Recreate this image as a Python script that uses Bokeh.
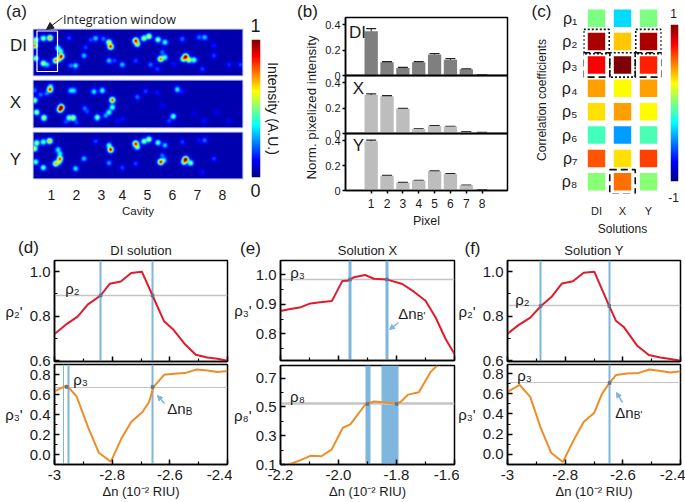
import numpy as np
from math import pi
from bokeh.plotting import figure
from bokeh.layouts import column
from bokeh.models import Range1d, FixedTicker, Label, Arrow, NormalHead, Whisker, ColumnDataSource, LinearColorMapper, TeeHead
from bokeh.embed import file_html
from bokeh.resources import INLINE

FONT = "Liberation Sans"

# ---- panel (a): bright spots (x, y, intensity)
spots_di = [(15,38,.55),(38,33,.5),(58,32,.72),(12,55,.75),(15,93,.5),(38,108,.55),(50,112,.3),(82,62,.4),(90,72,.4),(92,87,.85),(75,100,.7),(85,95,.5),(115,32,.15),(135,115,.35),(120,115,.2),(160,85,.3),(165,60,.15),(180,38,.15),(195,33,.3),(218,34,.2),(235,45,.6),(240,58,.85),(235,100,.3),(252,100,.15),(275,112,.3),(315,40,.85),(320,50,.6),(340,33,.55),(355,27,.6),(382,37,.5),(403,45,.4),(395,75,.2),(390,95,.75),(403,90,.4),(315,100,.15),(455,35,.2),(505,30,.2),(522,30,.3),(465,88,.95),(458,95,.6),(475,98,.55),(490,98,.45),(550,55,.1),(550,85,.15),(515,125,.15),(595,112,.12),(630,112,.15),(360,112,.2),(380,125,.15),(430,110,.1)]
spots_x = [(58,33,.8),(48,45,.2),(30,48,.2),(12,65,.55),(12,35,.2),(18,100,.55),(40,116,.6),(92,85,1.0),(88,92,.8),(120,36,.3),(130,36,.3),(128,116,.55),(115,116,.45),(138,130,.15),(105,128,.15),(190,39,.35),(215,36,.4),(245,64,.8),(245,85,.45),(235,100,.4),(225,110,.25),(200,115,.5),(162,88,.2),(170,98,.15),(345,38,.15),(320,55,.2),(440,33,.35),(428,112,.45),(415,125,.15),(520,125,.1),(275,120,.1),(380,42,.1),(455,40,.1),(395,80,.08),(560,100,.07),(595,125,.07),(490,105,.06),(260,125,.08),(60,24,.3)]
spots_y = [(18,38,.55),(38,35,.45),(57,32,.7),(12,55,.6),(15,95,.45),(38,112,.45),(82,58,.35),(88,70,.35),(88,85,.75),(75,100,.65),(85,95,.45),(135,115,.35),(160,85,.3),(195,33,.15),(235,45,.4),(240,58,.9),(235,98,.25),(275,112,.15),(315,40,.85),(320,50,.5),(340,33,.5),(355,27,.55),(382,37,.45),(403,45,.3),(395,75,.2),(390,95,.85),(400,90,.35),(315,100,.15),(455,35,.15),(505,30,.1),(522,30,.2),(465,87,1.0),(460,95,.6),(480,98,.5),(550,85,.15),(515,125,.1)]
cavity_pos = [63,138,213,276,351,426,501,576]
cavity_lab = ["1","2","3","4","5","6","7","8"]

# ---- panel (b)
pixels = [1,2,3,4,5,6,7,8]
b_di = [.35,.105,.06,.105,.165,.125,.05,.003]
b_di_err = [.02,.004,.004,.005,.008,.008,.003,.001]
b_x = [.305,.295,.195,.035,.06,.055,.012,.008]
b_x_err = [.008,.004,.003,.002,.002,.002,.001,.001]
b_y = [.395,.118,.062,.08,.155,.132,.042,.003]
b_y_err = [.01,.003,.003,.002,.003,.003,.002,.001]

# ---- panel (c)
rho_labels = ["ρ₁","ρ₂","ρ₃","ρ₄","ρ₅","ρ₆","ρ₇","ρ₈"]
sol_labels = ["DI","X","Y"]
corr_di = [0.0,.92,.76,.44,.31,-.12,.59,.02]
corr_x = [-.31,.36,1.0,.26,.44,-.44,.31,.53]
corr_y = [0.0,.92,.69,.44,.26,-.1,.63,.02]

# ---- panels (d, e, f)
d1_x = [-3,-2.962,-2.92,-2.884,-2.84,-2.808,-2.77,-2.734,-2.697,-2.66,-2.62,-2.59,-2.55,-2.51,-2.47,-2.435,-2.4]
d1_y = [.72,.761,.798,.853,.893,.946,.956,.994,1.0,.893,.777,.743,.678,.627,.615,.609,.6]
d2_x = [-3,-2.958,-2.924,-2.884,-2.846,-2.805,-2.768,-2.734,-2.695,-2.672,-2.657,-2.62,-2.585,-2.548,-2.507,-2.47,-2.435,-2.4]
d2_y = [.631,.691,.585,.276,.017,-.073,.159,.326,.425,.525,.674,.797,.807,.814,.85,.84,.824,.834]
e1_x = [-2.2,-2.171,-2.134,-2.097,-2.063,-2.023,-1.987,-1.97,-1.947,-1.909,-1.878,-1.832,-1.78,-1.74,-1.7,-1.666,-1.631,-1.6]
e1_y = [.877,.883,.889,.903,.907,.911,.979,.98,.992,1.0,.987,.984,.969,.943,.912,.857,.783,.731]
e2_x = [-2.171,-2.131,-2.097,-2.059,-2.024,-1.985,-1.959,-1.907,-1.878,-1.84,-1.803,-1.786,-1.76,-1.723,-1.683,-1.66]
e2_y = [.1,.13,.16,.157,.203,.355,.378,.518,.537,.53,.523,.534,.585,.601,.741,.787]
f1_x = [-3,-2.962,-2.921,-2.884,-2.846,-2.811,-2.773,-2.736,-2.699,-2.649,-2.624,-2.597,-2.551,-2.51,-2.47,-2.435,-2.4]
f1_y = [.722,.76,.794,.846,.889,.947,.957,.995,1.0,.851,.78,.752,.669,.626,.615,.608,.6]
f2_x = [-3,-2.958,-2.921,-2.886,-2.848,-2.808,-2.771,-2.736,-2.699,-2.672,-2.646,-2.624,-2.585,-2.545,-2.508,-2.47,-2.435,-2.4]
f2_y = [.618,.688,.569,.271,.013,-.076,.139,.321,.413,.602,.708,.785,.8,.807,.84,.826,.81,.823]

# crossing points marked on the curves
d1_cross = [(-2.84,.893),(-2.66,.893)]
d2_cross = [(-2.958,.675),(-2.66,.675)]
e1_cross = [(-1.96,.984),(-1.833,.984)]
e2_cross = [(-1.9,.52),(-1.80,.52)]
f1_cross = [(-2.885,.846),(-2.647,.846)]
f2_cross = [(-2.646,.708)]

RED = "#e01b2c"
ORANGE = "#f08c25"
BLUE = "#7fb6de"
GRAY = "#c4c4c4"
TXT = "#1a1a1a"


def jet(n=256):
    out = []
    for t in np.linspace(0, 1, n):
        r = np.clip(min(4*t-1.5, -4*t+4.5), 0, 1)
        g = np.clip(min(4*t-0.5, -4*t+3.5), 0, 1)
        b = np.clip(min(4*t+0.5, -4*t+2.5), 0, 1)
        out.append("#%02x%02x%02x" % (int(r*255), int(g*255), int(b*255)))
    return out

JET = jet()
kids = []
L, R, TOP, B = 70, 5, 35, 38


def make(X0, Y0, X1, Y1, xr, yr):
    p = figure(frame_width=X1-X0, frame_height=Y1-Y0, width=None, height=None,
               x_range=Range1d(*xr), y_range=Range1d(*yr),
               toolbar_location=None, output_backend="svg",
               min_border_left=L, min_border_right=R, min_border_top=TOP, min_border_bottom=B,
               border_fill_color=None, background_fill_color=None,
               styles={"position": "absolute", "left": f"{X0-L}px", "top": f"{Y0-TOP}px"})
    p.grid.visible = False
    kids.append(p)
    return p


def style_axes(p, size="15px"):
    for ax in (p.xaxis[0], p.yaxis[0]):
        ax.axis_line_color = "black"
        ax.axis_line_width = 1.5
        ax.major_tick_line_color = "black"
        ax.minor_tick_line_color = "black"
        ax.major_tick_line_width = 1.5
        ax.minor_tick_line_width = 1.2
        ax.major_label_text_font = FONT
        ax.major_label_text_font_size = size
        ax.major_label_text_color = TXT
        ax.axis_label_text_font = FONT
        ax.axis_label_text_font_style = "normal"
        ax.axis_label_text_color = TXT
    p.outline_line_color = "black"
    p.outline_line_width = 1.5

# ---------------- panel (a)
frames_a = [(29, 75), (80, 127), (132, 178)]
gx, gy = np.meshgrid(np.arange(9, 636, 1.0), np.arange(7, 145, 1.0))
for i, (sp, (y0, y1)) in enumerate(zip([spots_di, spots_x, spots_y], frames_a)):
    p = make(33, y0, 242, y1, (9, 636), (145, 7))
    top = np.zeros(gx.shape)
    total = np.zeros(gx.shape)
    for sx, sy, a in sp:
        g = a*np.exp(-((gx-sx)**2+(gy-sy)**2)/(2*6.0**2))
        top = np.maximum(top, g)
        total += g
    field = top + .5*(total-top) + .05
    p.image(image=[np.clip(field, 0, 1)], x=9, y=7, dw=627, dh=138,
            color_mapper=LinearColorMapper(palette=JET, low=0, high=1))
    p.outline_line_color = "#9aa4e8"
    p.outline_line_width = 1.5
    p.yaxis.visible = False
    if i == 2:
        ax = p.xaxis[0]
        ax.ticker = FixedTicker(ticks=cavity_pos)
        ax.major_label_overrides = dict(zip(cavity_pos, cavity_lab))
        ax.axis_line_color = None
        ax.major_tick_line_color = None
        ax.minor_tick_line_color = None
        ax.major_label_text_font = FONT
        ax.major_label_text_font_size = "14px"
        ax.major_label_text_color = TXT
        ax.major_label_standoff = 5
        ax.axis_label = "Cavity"
        ax.axis_label_text_font = FONT
        ax.axis_label_text_font_size = "11.5px"
        ax.axis_label_text_font_style = "normal"
        ax.axis_label_text_color = TXT
        ax.axis_label_standoff = 2
    else:
        p.xaxis.visible = False

cbar_a = make(251, 39, 260, 177, (0, 1), (0, 1))
cbar_a.image(image=[np.linspace(0, 1, 256).reshape(-1, 1)], x=0, y=0, dw=1, dh=1,
             color_mapper=LinearColorMapper(palette=JET, low=0, high=1))
cbar_a.axis.visible = False
cbar_a.outline_line_color = None

# ---------------- panel (b)
b_frames = [(17, 75), (75, 133), (133, 190)]
for i, (vals, errs, col, (y0, y1)) in enumerate(zip([b_di, b_x, b_y], [b_di_err, b_x_err, b_y_err],
                                                    ["#7f7f7f", "#bdbdbd", "#bdbdbd"], b_frames)):
    p = make(345, y0, 507, y1, (-0.62, 9.6), (0, .458))
    p.vbar(x=pixels, top=vals, width=.84, fill_color=col, line_color=None)
    upper = [v+e for v, e in zip(vals, errs)]
    lower = [v-e for v, e in zip(vals, errs)]
    src = ColumnDataSource(dict(x=pixels, up=upper, lo=lower))
    p.add_layout(Whisker(source=src, base="x", upper="up", lower="lo", line_color="#222222", line_width=1,
                         upper_head=TeeHead(size=10, line_color="#222222", line_width=1.2),
                         lower_head=TeeHead(size=10, line_color="#222222", line_width=1.2)))
    style_axes(p, "11px")
    p.xaxis[0].ticker = FixedTicker(ticks=pixels)
    p.yaxis[0].ticker = FixedTicker(ticks=[0, .2, .4])
    p.yaxis[0].major_label_overrides = {0: "0", 0.2: "0.2", 0.4: "0.4"}
    p.yaxis[0].major_tick_in = 0
    p.yaxis[0].major_tick_out = 3
    p.yaxis[0].major_label_standoff = 2
    p.xaxis[0].major_tick_in = 0
    p.xaxis[0].major_tick_out = 3 if i == 2 else 0
    if i == 2:
        p.xaxis[0].major_label_text_font_size = "12px"
        p.xaxis[0].axis_label = "Pixel"
        p.xaxis[0].axis_label_text_font_size = "12.5px"
        p.xaxis[0].axis_label_standoff = 3
    else:
        p.xaxis[0].major_label_text_color = None

# ---------------- panel (c)
pc = make(583, 6, 661, 193, (.5, 3.5), (8.5, .5))
for j, vals in enumerate([corr_di, corr_x, corr_y]):
    pc.rect(x=[j+1]*8, y=list(range(1, 9)), width=.67, height=.75,
            fill_color=[JET[int((v+1)/2*255)] for v in vals], line_color=None)
pc.rect(x=[1, 3], y=[2, 2], width=.98, height=1.04, fill_color=None, line_color="#111111", line_width=1.6, line_dash="2 2")
pc.rect(x=[2], y=[3], width=.98, height=1.04, fill_color=None, line_color="#111111", line_width=1.6, line_dash="2 2")
pc.rect(x=[1, 3], y=[3, 3], width=1.02, height=1.04, fill_color=None, line_color="#111111", line_width=1.6, line_dash="7 4")
pc.rect(x=[2], y=[8], width=.98, height=1.04, fill_color=None, line_color="#111111", line_width=1.6, line_dash="7 4")
pc.outline_line_color = None
for ax in (pc.xaxis[0], pc.yaxis[0]):
    ax.axis_line_color = None
    ax.major_tick_line_color = None
    ax.minor_tick_line_color = None
    ax.major_label_text_font = FONT
    ax.major_label_text_color = TXT
    ax.axis_label_text_font = FONT
    ax.axis_label_text_font_style = "normal"
    ax.axis_label_text_font_size = "12px"
    ax.axis_label_text_color = TXT
pc.xaxis[0].ticker = FixedTicker(ticks=[1, 2, 3])
pc.xaxis[0].major_label_overrides = dict(zip([1, 2, 3], sol_labels))
pc.xaxis[0].major_label_text_font_size = "11px"
pc.xaxis[0].major_label_standoff = 5
pc.xaxis[0].axis_label = "Solutions"
pc.xaxis[0].axis_label_standoff = 2
pc.yaxis[0].ticker = FixedTicker(ticks=list(range(1, 9)))
pc.yaxis[0].major_label_overrides = dict(zip(range(1, 9), rho_labels))
pc.yaxis[0].major_label_text_font_size = "16px"
pc.yaxis[0].major_label_standoff = 0
pc.yaxis[0].axis_label = "Correlation coefficients"
pc.yaxis[0].axis_label_standoff = 10

cbar_c = make(670, 24, 678, 181, (0, 1), (-1, 1))
cbar_c.image(image=[np.linspace(-1, 1, 256).reshape(-1, 1)], x=0, y=-1, dw=1, dh=2,
             color_mapper=LinearColorMapper(palette=JET, low=-1, high=1))
cbar_c.axis.visible = False
cbar_c.outline_line_color = None


# ---------------- panels (d, e, f)
def panel(frame, xr, yr, xt, xt_lab, xm, yt, yt_lab, ym, xs, ys, col, cross, vl=(), bands=(), hl=None, hw=1.5,
          title=None, show_x=False, ylabel=None, ylstand=4):
    p = make(*frame, xr, yr)
    if bands:
        p.vstrip(x0=[b[0] for b in bands], x1=[b[1] for b in bands], fill_color=BLUE, line_color=None)
    if vl:
        p.vspan(x=[v[0] for v in vl], line_color=BLUE, line_width=[v[1] for v in vl])
    p.hspan(y=[hl], line_color=GRAY, line_width=hw)
    p.line(xs, ys, line_color=col, line_width=2)
    p.scatter([c[0] for c in cross], [c[1] for c in cross], marker="square", size=3.5,
              fill_color="#5f7389", line_color=None)
    style_axes(p)
    xa, ya = p.xaxis[0], p.yaxis[0]
    xa.ticker = FixedTicker(ticks=xt, minor_ticks=xm)
    ya.ticker = FixedTicker(ticks=yt, minor_ticks=ym)
    ya.major_label_overrides = dict(zip(yt, yt_lab))
    for ax in (xa, ya):
        ax.major_tick_in = 5
        ax.major_tick_out = 0
        ax.minor_tick_in = 3
        ax.minor_tick_out = 0
    ya.major_label_standoff = 4
    xa.major_label_standoff = 5
    ya.axis_label = ylabel
    ya.axis_label_orientation = "horizontal"
    ya.axis_label_text_font_size = "15px"
    ya.axis_label_standoff = ylstand
    if show_x:
        xa.major_label_overrides = dict(zip(xt, xt_lab))
        xa.axis_label = "Δn (10⁻² RIU)"
        xa.axis_label_text_font_size = "13px"
        xa.axis_label_standoff = 1
    else:
        xa.major_label_text_color = None
    if title:
        p.title.text = title
        p.title.align = "center"
        p.title.text_font = FONT
        p.title.text_font_style = "normal"
        p.title.text_font_size = "13px"
        p.title.text_color = TXT
        p.title.standoff = 6
    return p

xt1, xt1l, xm1 = [-3, -2.8, -2.6, -2.4], ["-3", "-2.8", "-2.6", "-2.4"], [-2.9, -2.7, -2.5]
xt2, xt2l, xm2 = [-2.2, -2.0, -1.8, -1.6], ["-2.2", "-2.0", "-1.8", "-1.6"], [-2.1, -1.9, -1.7]

panel((54, 260, 227, 361), (-3, -2.4), (.597, 1.05), xt1, xt1l, xm1, [.6, .8, 1.0], ["0.6", "0.8", "1.0"], [.7, .9],
      d1_x, d1_y, RED, d1_cross, vl=[(-2.84, 2), (-2.66, 2)], hl=.893, title="DI solution", ylabel="ρ₂'")
panel((54, 364, 227, 464), (-3, -2.4), (-.1, .9), xt1, xt1l, xm1, [0, .2, .4, .6, .8], ["0.0", "0.2", "0.4", "0.6", "0.8"], [.1, .3, .5, .7],
      d2_x, d2_y, ORANGE, d2_cross, vl=[(-2.969, 1), (-2.9525, 2), (-2.66, 2)], hl=.675, hw=1, show_x=True, ylabel="ρ₃'")
panel((280, 260, 454, 360), (-2.2, -1.6), (.709, 1.049), xt2, xt2l, xm2, [.8, .9, 1.0], ["0.8", "0.9", "1.0"], [.75, .85, .95],
      e1_x, e1_y, RED, e1_cross, bands=[(-1.964, -1.954), (-1.837, -1.829)], hl=.984, title="Solution X", ylabel="ρ₃'", ylstand=1)
panel((280, 365, 454, 464), (-2.2, -1.6), (.1, .787), xt2, xt2l, xm2, [.1, .3, .5, .7], ["0.1", "0.3", "0.5", "0.7"], [.2, .4, .6],
      e2_x, e2_y, ORANGE, e2_cross, bands=[(-1.906, -1.889), (-1.851, -1.793)], hl=.52, hw=2.5, show_x=True, ylabel="ρ₈'", ylstand=1)
panel((507, 260, 680, 361), (-3, -2.4), (.597, 1.05), xt1, xt1l, xm1, [.6, .8, 1.0], ["0.6", "0.8", "1.0"], [.7, .9],
      f1_x, f1_y, RED, f1_cross, vl=[(-2.885, 2), (-2.647, 2)], hl=.846, title="Solution Y", ylabel="ρ₂'")
panel((507, 364, 680, 464), (-3, -2.4), (-.1, .89), xt1, xt1l, xm1, [0, .2, .4, .6, .8], ["0.0", "0.2", "0.4", "0.6", "0.8"], [.1, .3, .5, .7],
      f2_x, f2_y, ORANGE, f2_cross, vl=[(-2.646, 2)], hl=.708, hw=1, show_x=True, ylabel="ρ₃'")

# ---------------- free texts, window and arrows: four transparent layers in page pixels
layers = {}
for cx, (xa, xb) in enumerate([(0, 340), (340, 680)]):
    for cy, (ya, yb) in enumerate([(0, 232), (232, 464)]):
        o = make(xa, ya, xb, yb, (xa, xb), (yb, ya))
        o.axis.visible = False
        o.outline_line_color = None
        layers[(cx, cy)] = o


def layer(x, y):
    return layers[(0 if x < 340 else 1, 0 if y < 232 else 1)]


def T(x, y, s, size=15, font=FONT, angle=0):
    layer(x, y).add_layout(Label(x=x, y=y, text=s, text_font=font, text_font_size=f"{size}px", text_color=TXT,
                                 text_align="center", text_baseline="middle", angle=angle))


for x, y, s in [(16, 11, "(a)"), (307, 11, "(b)"), (541, 11, "(c)"), (28, 247, "(d)"), (250, 248, "(e)"), (472, 248, "(f)")]:
    T(x, y, s, 17)
for x, y, s in [(18, 45, "DI"), (15, 102, "X"), (15, 159, "Y")]:
    T(x, y, s, 17)
for x, y, s in [(357, 32, "DI"), (358, 88, "X"), (358, 145, "Y")]:
    T(x, y, s, 17)
T(119, 19, "Integration window", 12.5, "Open Sans")
T(255, 25, "1", 18)
T(255, 190, "0", 18)
T(272, 108, "Intensity (A.U.)", 14, angle=-pi/2)
T(311, 107, "Norm. pixelized intensity", 13.3, angle=pi/2)
T(673, 13, "1", 12)
T(673, 197, "-1", 12)
for x, y, s in [(72, 288, "ρ₂"), (80, 379, "ρ₃"), (297, 272, "ρ₃"), (297, 396, "ρ₈"), (522, 299, "ρ₂"), (524, 375, "ρ₃")]:
    T(x, y, s, 15)
for x, y, s, sub, off in [(176, 408, "Δn", "B", 12.5), (407, 313, "Δn", "B'", 13.5), (624, 412, "Δn", "B'", 13.5)]:
    T(x, y, s, 15)
    T(x+off, y+3, sub, 10)
layers[(0, 0)].quad(left=[36.5], right=[57], top=[30.5], bottom=[71], fill_color=None, line_color="white", line_width=1.2)
layers[(0, 0)].add_layout(Arrow(x_start=62, y_start=17, x_end=46, y_end=29, line_color="#222222", line_width=1,
                                end=NormalHead(size=7, fill_color="#222222", line_color="#222222")))
for a in [(164, 403, 157, 395), (398, 322, 389, 329), (622, 402, 616, 392)]:
    layer(a[0], a[1]).add_layout(Arrow(x_start=a[0], y_start=a[1], x_end=a[2], y_end=a[3], line_color=BLUE, line_width=1.5,
                                       end=NormalHead(size=5, fill_color=BLUE, line_color=BLUE)))

root = column(*kids, width=669, height=486, styles={"position": "relative"})
open("out.html", "w").write(file_html(root, INLINE))
